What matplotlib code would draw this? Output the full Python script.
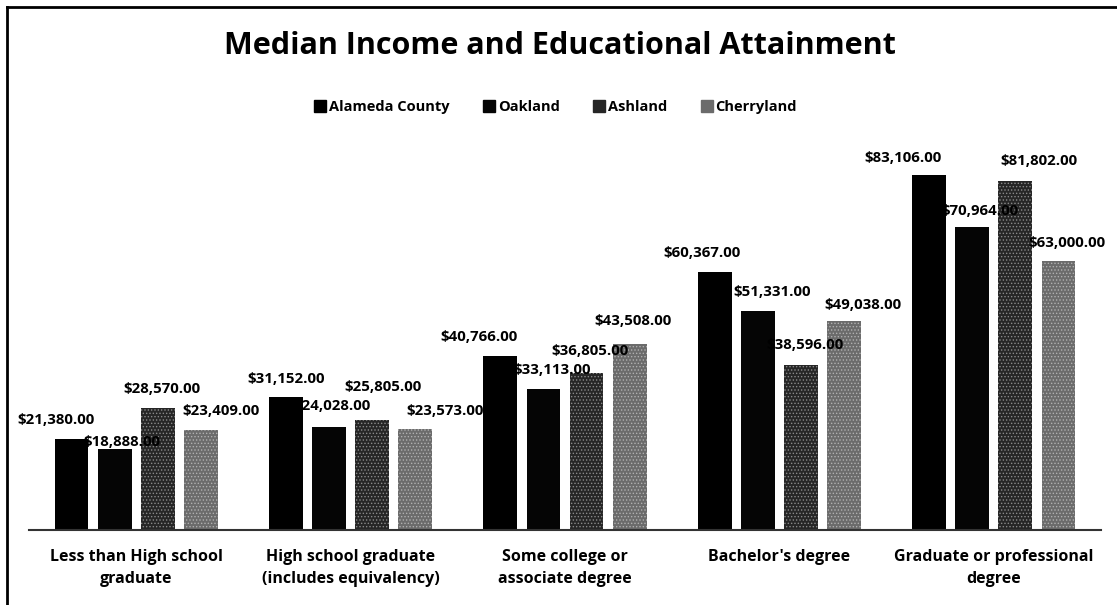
import numpy as np
import matplotlib
matplotlib.use('Agg')
import matplotlib.pyplot as plt
from matplotlib.lines import Line2D

# data
categories = ['Less than High school\ngraduate', 'High school graduate\n(includes equivalency)',
              'Some college or\nassociate degree', "Bachelor's degree",
              'Graduate or professional\ndegree']
series_names = ['Alameda County', 'Oakland', 'Ashland', 'Cherryland']
alameda = [21380, 31152, 40766, 60367, 83106]
oakland = [18888, 24028, 33113, 51331, 70964]
ashland = [28570, 25805, 36805, 38596, 81802]
cherryland = [23409, 23573, 43508, 49038, 63000]

# label nudges in pixels (dx, height of label centre above bar top)
# the labels in the original were dragged around by hand
label_off = [[(-16, 19), (0, 18), (-21, 19), (-13, 19), (-26, 17)],
             [(7, 7), (3, 21), (9, 19), (14, 19), (8, 16)],
             [(4, 19), (11, 33), (3, 22), (4, 20), (24, 20)],
             [(20, 19), (30, 18), (3, 23), (19, 16), (8, 18)]]

plt.rcParams['font.family'] = ['Open Sans', 'DejaVu Sans']
plt.rcParams['hatch.linewidth'] = 0.6

fig = plt.figure(figsize=(11.17, 6.05), dpi=100)
W, H = 1117, 605
ax = fig.add_axes([29 / W, (H - 530) / H, 1072 / W, (530 - 146) / H])

x = np.arange(len(categories))
pitch = 0.201
width = 0.158
# face, hatch colour, hatch
styles = [('#000000', '#000000', None),
          ('#050505', '#050505', None),
          ('#262626', '#8a8a8a', '.....'),
          ('#6b6b6b', '#b0b0b0', '.....')]

all_vals = [alameda, oakland, ashland, cherryland]
for i, vals in enumerate(all_vals):
    face, edge, hatch = styles[i]
    xs = x + (i - 1.5) * pitch
    ax.bar(xs, vals, width, color=face, edgecolor=edge, hatch=hatch,
           linewidth=0, label=series_names[i], zorder=2)
    for j, (xi, v) in enumerate(zip(xs, vals)):
        dx, dy = label_off[i][j]
        ax.annotate('${:,.2f}'.format(v), (xi, v), xytext=(dx, dy),
                    textcoords='offset pixels', ha='center', va='center',
                    fontsize=10.8, fontweight='bold', color='black', zorder=3)

ax.set_xlim(-0.5, len(categories) - 0.5)
ax.set_ylim(0, 90000)
ax.set_xticks(x)
ax.set_xticklabels(categories, fontsize=11.5, fontweight='bold', linespacing=1.5)
ax.tick_params(axis='x', length=0, pad=14)
ax.set_yticks([])
for s in ['top', 'right', 'left']:
    ax.spines[s].set_visible(False)
ax.spines['bottom'].set_color('#333333')
ax.spines['bottom'].set_linewidth(1.5)

fig.text(560 / W, 1 - 46 / H, 'Median Income and Educational Attainment',
         ha='center', va='center', fontsize=22, fontweight='bold')

leg_handles = [Line2D([], [], marker='s', linestyle='none', markersize=8,
                      markerfacecolor=styles[i][0], markeredgecolor=styles[i][0])
               for i in range(4)]
fig.legend(leg_handles, series_names, loc='center', bbox_to_anchor=(555 / W, 1 - 107 / H),
           ncol=4, frameon=False, prop={'size': 10.5, 'weight': 'bold'},
           handletextpad=0.1, columnspacing=2.2, handlelength=1.0)

# chart border (left and top edges visible in the scan)
fig.add_artist(Line2D([7 / W, 7 / W], [0, 1 - 7 / H], color='black', lw=2,
                      transform=fig.transFigure))
fig.add_artist(Line2D([7 / W, 1], [1 - 7 / H, 1 - 7 / H], color='black', lw=2,
                      transform=fig.transFigure))

fig.savefig('out.png', dpi=100)
